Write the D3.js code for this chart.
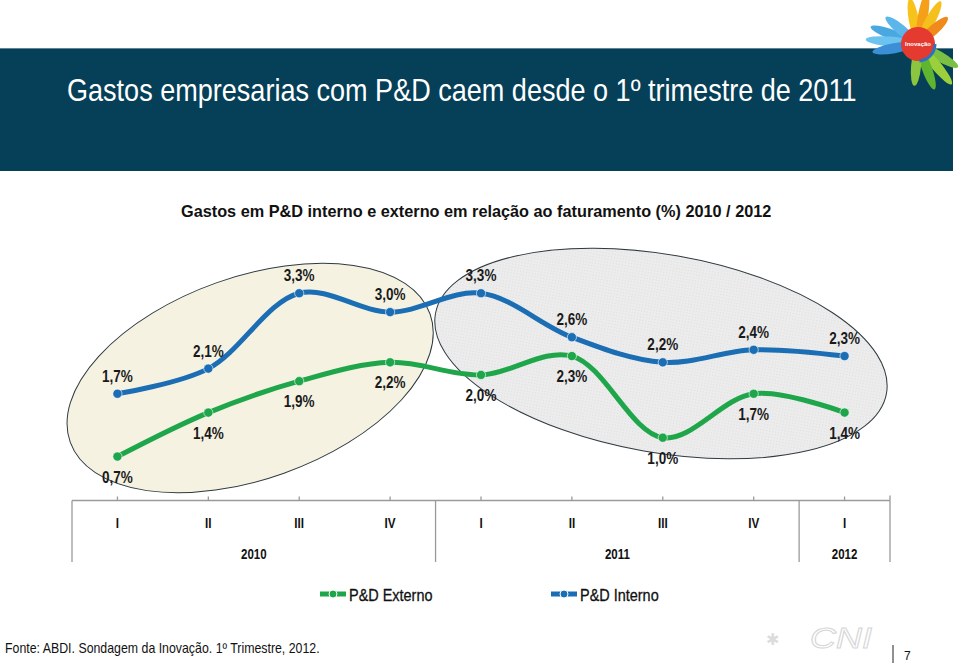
<!DOCTYPE html>
<html><head><meta charset="utf-8">
<script src="https://cdn.jsdelivr.net/npm/d3@7/dist/d3.min.js"></script>
<style>
html,body{margin:0;padding:0;background:#fff;}
svg{display:block;}
text{font-family:"Liberation Sans Narrow","Arial Narrow","Liberation Sans",Arial,sans-serif;}
</style></head>
<body>
<svg id="chart" width="959" height="663"></svg>
<script>
// ---- data ----
const categories = ["I","II","III","IV","I","II","III","IV","I"];
const years = ["2010","2011","2012"];
const yearSpans = [4,4,1];
const externo = [0.7,1.4,1.9,2.2,2.0,2.3,1.0,1.7,1.4];
const interno = [1.7,2.1,3.3,3.0,3.3,2.6,2.2,2.4,2.3];
const seriesNames = ["P&D Externo","P&D Interno"];
const title = "Gastos empresarias com P&D caem desde o 1º trimestre de 2011";
const subtitle = "Gastos em P&D interno e externo em relação ao faturamento (%) 2010 / 2012";
const source = "Fonte: ABDI. Sondagem da Inovação. 1º Trimestre, 2012.";

const fmt = v => v.toFixed(1).replace(".", ",") + "%";

const svg = d3.select("#chart");
const GREEN = "#1fa64b", BLUE = "#1b6db4";

// text helper: horizontally condensed text (narrow face look)
function ntext(parent, x, y, str, size, opts = {}) {
  const g = parent.append("g");
  const t = g.append("text").attr("x",0).attr("y",0).attr("font-size",size)
    .attr("fill", opts.fill || "#111")
    .attr("font-weight", opts.weight || "normal")
    .attr("text-anchor", opts.anchor || "start").text(str);
  let sx = opts.sx || 0.82;
  if (opts.width) {
    const w = t.node().getComputedTextLength();
    sx = opts.width / w;
  }
  g.attr("transform", `translate(${x},${y}) scale(${sx},1)`);
  return t;
}

// header band
svg.append("rect").attr("x",0).attr("y",48).attr("width",953).attr("height",123).attr("fill","#053f58");
svg.append("line").attr("x1",0).attr("x2",953).attr("y1",48.5).attr("y2",48.5).attr("stroke","#5d8596").attr("stroke-width",1);
ntext(svg, 67, 101, title, 31, {fill:"#fff", width:790});

// logo (hands) top-right
const logo = svg.append("g").attr("transform","translate(918,44)");
const fingers = [
  {a:-160,c:"#4aa8e0",l:48},{a:-175,c:"#6cc3ef",l:50},{a:170,c:"#3b8fd6",l:44},{a:-140,c:"#5bb6ea",l:40},
  {a:-100,c:"#f7c31b",l:44},{a:-80,c:"#f6a01a",l:50},{a:-62,c:"#f5c01c",l:46},{a:-42,c:"#f08a1d",l:38},
  {a:30,c:"#7ac143",l:44},{a:50,c:"#9bd03c",l:50},{a:70,c:"#5fb52f",l:46},{a:95,c:"#8cc63f",l:40}
];
fingers.forEach(f=>{
  logo.append("ellipse").attr("cx",f.l*0.55).attr("cy",0).attr("rx",f.l*0.5).attr("ry",5)
    .attr("fill",f.c).attr("transform",`rotate(${f.a})`);
});
logo.append("circle").attr("r",17).attr("fill","#e53a2f");
logo.append("circle").attr("r",17).attr("fill","none").attr("stroke","#2b72c4").attr("stroke-width",3).attr("stroke-dasharray","25 82");
logo.append("text").attr("text-anchor","middle").attr("y",2).attr("font-size",6).attr("fill","#fff").attr("font-weight","bold").text("Inovação");

// subtitle
ntext(svg, 181, 217, subtitle, 16, {weight:"bold", width:591});

// scales
const x = d3.scaleBand().domain(d3.range(categories.length)).range([72,890]).paddingInner(0).paddingOuter(0);
const cx = i => x(i) + x.bandwidth()/2;
const y = d3.scaleLinear().domain([0,3.5]).range([500.5,280.7]);
const step = x.step();

// ellipses (annotations), centres placed through the scales
const ellipses = [
  {ci:1.46, cv:1.95, rx:191, ry:101, rot:-19.6, fill:"#f5f2e2"},
  {ci:5.98, cv:2.34, rx:229, ry:99, rot:10, fill:"#ebebeb"}
];
const defs = svg.append("defs");
const pat = defs.append("pattern").attr("id","hatch").attr("width",3).attr("height",3).attr("patternUnits","userSpaceOnUse");
pat.append("rect").attr("width",3).attr("height",3).attr("fill","#ececec");
pat.append("rect").attr("width",1).attr("height",1).attr("fill","#dedede");
ellipses.forEach((e,k)=>{
  const ex = x(0)+step/2 + e.ci*step, ey = y(e.cv);
  svg.append("ellipse").attr("cx",0).attr("cy",0).attr("rx",e.rx).attr("ry",e.ry)
    .attr("transform",`translate(${ex},${ey}) rotate(${e.rot})`)
    .attr("fill", k===1 ? "url(#hatch)" : e.fill).attr("stroke","#2f3b40").attr("stroke-width",1);
});

// axis
const axisG = svg.append("g").attr("stroke","#9a9a9a").attr("stroke-width",1.3);
axisG.append("line").attr("x1",72).attr("x2",890).attr("y1",y(0)).attr("y2",y(0));
categories.forEach((c,i)=>{
  axisG.append("line").attr("x1",cx(i)).attr("x2",cx(i)).attr("y1",y(0)-4).attr("y2",y(0));
});
axisG.append("line").attr("x1",890).attr("x2",890).attr("y1",y(0)-5).attr("y2",y(0));
// year separators
let acc = 0;
const bounds = [0];
yearSpans.forEach(s=>{acc+=s; bounds.push(acc);});
bounds.forEach(b=>{
  const bx = x(0) + b*step;
  axisG.append("line").attr("x1",bx).attr("x2",bx).attr("y1",y(0)).attr("y2",562);
});
categories.forEach((c,i)=>{
  ntext(svg, cx(i), 528, c, 15, {weight:"bold", anchor:"middle", sx:0.78});
});
years.forEach((yr,k)=>{
  const mid = x(0) + (bounds[k]+bounds[k+1])/2*step;
  ntext(svg, mid, 559, yr, 14, {weight:"bold", anchor:"middle"});
});

// lines
const line = d3.line().x((d,i)=>cx(i)).y(d=>y(d)).curve(d3.curveCatmullRom.alpha(0.5));
function drawSeries(vals,color,above){
  svg.append("path").datum(vals).attr("d",line).attr("fill","none").attr("stroke",color)
    .attr("stroke-width",5).attr("stroke-linecap","round");
  svg.selectAll(null).data(vals).enter().append("circle")
    .attr("cx",(d,i)=>cx(i)).attr("cy",d=>y(d)).attr("r",4.6).attr("fill",color)
    .attr("stroke","#ffffff").attr("stroke-opacity",0.6).attr("stroke-width",1);
  vals.forEach((d,i)=>{
    ntext(svg, cx(i), above ? y(d)-12 : y(d)+26, fmt(d), 16.5, {weight:"bold", anchor:"middle", fill:"#1a1a1a"});
  });
}
drawSeries(externo,GREEN,false);
drawSeries(interno,BLUE,true);

// legend
const legend = [{name:seriesNames[0],color:GREEN,x:320},{name:seriesNames[1],color:BLUE,x:551}];
legend.forEach(l=>{
  const g = svg.append("g").attr("transform",`translate(${l.x},594)`);
  g.append("line").attr("x1",0).attr("x2",26).attr("y1",0).attr("y2",0).attr("stroke",l.color).attr("stroke-width",5);
  g.append("circle").attr("cx",13).attr("cy",0).attr("r",4).attr("fill",l.color).attr("stroke","#fff").attr("stroke-width",1);
  ntext(g, 29, 6.5, l.name, 17, {sx:0.85}).attr("font-weight","500").attr("stroke","#111").attr("stroke-width",0.3);
});

// footer
ntext(svg, 5, 653, source, 14, {width:315});
ntext(svg, 810, 648, "CNI", 30, {fill:"none", width:62}).attr("font-style","italic")
  .attr("stroke","#d6d6d6").attr("stroke-width",1);
svg.append("text").attr("x",772).attr("y",645).attr("font-size",16).attr("fill","#dcdcdc").attr("text-anchor","middle").text("✱");
svg.append("line").attr("x1",893).attr("x2",893).attr("y1",645).attr("y2",663).attr("stroke","#222").attr("stroke-width",1);
svg.append("text").attr("x",904).attr("y",660).attr("font-size",12).attr("fill","#111").text("7");
</script>
</body></html>
